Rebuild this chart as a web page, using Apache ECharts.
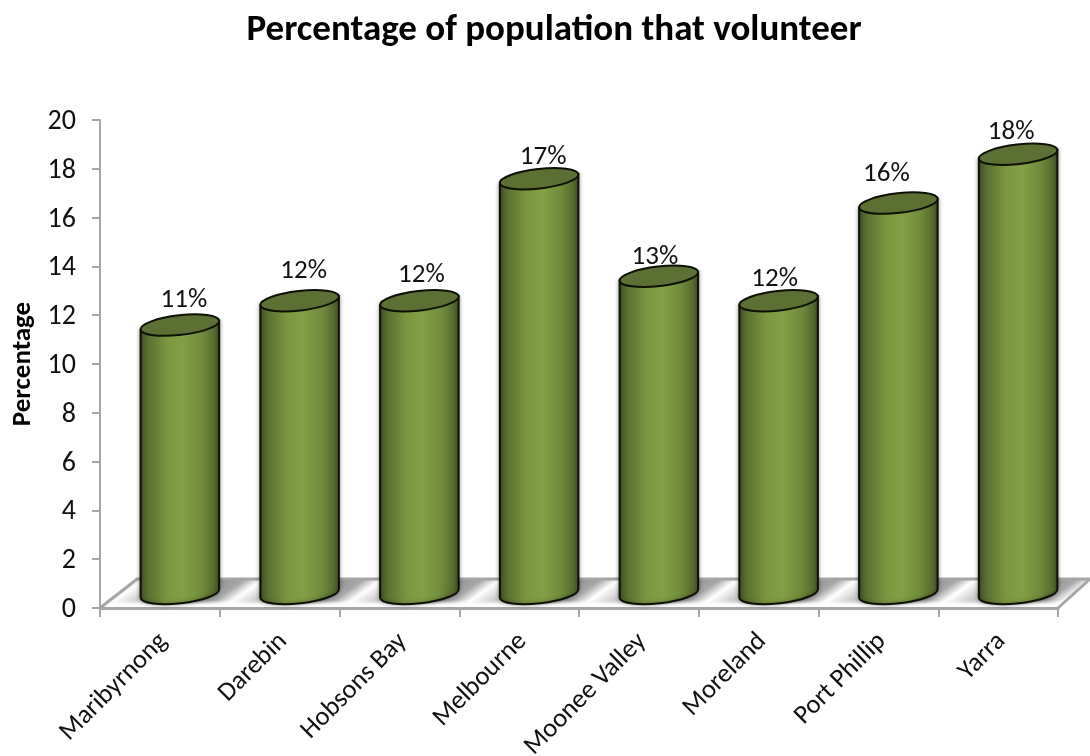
<!DOCTYPE html>
<html><head><meta charset="utf-8">
<style>html,body{margin:0;padding:0;background:#fff}#c{width:1090px;height:756px}</style>
<script src="https://cdn.jsdelivr.net/npm/echarts@6/dist/echarts.min.js"></script>
</head><body><div id="c"></div>
<script>
const categories = ['Maribyrnong','Darebin','Hobsons Bay','Melbourne','Moonee Valley','Moreland','Port Phillip','Yarra'];
const values = [11,12,12,17,13,12,16,18];
const yTicks = {min:0,max:20,interval:2};
const titleText = 'Percentage of population that volunteer';
const yName = 'Percentage';
// Hand nudges of the value labels, as in the source chart
const labelNudgeX = [4,4,2,4,-4,-4,-12,-7];
const labelNudgeY = [-25,-29,-25,-21,-19,-21,-29,-22];

const FONT = 'Carlito, Calibri, Lato, sans-serif';
const G = {l:100,r:1058,t:120,b:608};
const chart = echarts.init(document.getElementById('c'),null,{renderer:'canvas'});

// Floor shading: diagonal grey streaks between the cylinders
function floorGradient(){
  const P=119.75, dx=0.58, dy=0.81, n=10;
  const span=P*dx;
  const x0=10, y0=590;
  const stops=[];
  for(let i=0;i<n;i++){
    const f=o=>(i+o)/n;
    stops.push({offset:f(0),color:'#ffffff'});
    stops.push({offset:f(0.18),color:'#cfcfcf'});
    stops.push({offset:f(0.6),color:'#8a8a8a'});
    stops.push({offset:f(0.85),color:'#a8a8a8'});
    stops.push({offset:f(1),color:'#ffffff'});
  }
  return {type:'linear',global:true,x:x0,y:y0,x2:x0+dx*span*n,y2:y0+dy*span*n,colorStops:stops};
}

function renderCylinder(params,api){
  const i=api.value(0), v=api.value(1);
  const top=api.coord([i,v]), base=api.coord([i,0]);
  const band=api.size([1,0])[0];
  const shiftX=band*0.167, shiftY=-14.5;
  const rx=band*0.33, ry=9.8, rot=-6.5;
  const cx=top[0]+shiftX, ty=top[1]+shiftY, by=base[1]+shiftY;
  const a=rot*Math.PI/180;
  const ex=rx*Math.cos(a), ey=rx*Math.sin(a);
  const body=`M${cx-ex} ${ty-ey}L${cx-ex} ${by-ey}A${rx} ${ry} ${rot} 0 0 ${cx+ex} ${by+ey}L${cx+ex} ${ty+ey}Z`;
  const cap=`M${cx-ex} ${ty-ey}A${rx} ${ry} ${rot} 1 1 ${cx+ex} ${ty+ey}A${rx} ${ry} ${rot} 1 1 ${cx-ex} ${ty-ey}Z`;
  const grad={type:'linear',x:0,y:0,x2:1,y2:0,colorStops:[
    {offset:0,color:'#445426'},{offset:0.12,color:'#5c7132'},{offset:0.35,color:'#7b983f'},
    {offset:0.55,color:'#82a044'},{offset:0.78,color:'#6f8a3a'},{offset:0.93,color:'#55682d'},{offset:1,color:'#43532a'}]};
  return {type:'group',children:[
    {type:'path',shape:{pathData:body},style:{fill:grad,stroke:'#0c1005',lineWidth:2,shadowBlur:4,shadowColor:'rgba(0,0,0,0.35)'}},
    {type:'path',shape:{pathData:cap},style:{fill:'#5c7033',stroke:'#0c1005',lineWidth:2}},
    {type:'text',style:{text:values[i]+'%',x:cx+labelNudgeX[i],y:ty+labelNudgeY[i],align:'center',verticalAlign:'middle',fill:'#111',font:'27px '+FONT}}
  ]};
}

chart.setOption({
  animation:false,
  backgroundColor:'#fff',
  title:{text:titleText,left:549,top:7,textAlign:'center',textStyle:{fontFamily:FONT,fontWeight:'bold',fontSize:37,color:'#000'}},
  grid:{left:G.l,right:1090-G.r,top:G.t,bottom:756-G.b,containLabel:false,outerBoundsMode:'none'},
  graphic:[
    {type:'polygon',z:-1,shape:{points:[[100,608],[137,579],[1090,579],[1058,608]]},style:{fill:floorGradient()}},
    {type:'polygon',z:-1,shape:{points:[[100,608],[110,600],[1067,600],[1058,608]]},style:{fill:{type:'linear',x:0,y:0,x2:0,y2:1,colorStops:[{offset:0,color:'rgba(255,255,255,0)'},{offset:0.6,color:'rgba(255,255,255,1)'},{offset:1,color:'#fff'}]}}},
    {type:'polyline',z:0,shape:{points:[[100,608],[137,579],[1090,579]]},style:{fill:'none',stroke:'#a6a6a6',lineWidth:3}},
    {type:'polyline',z:0,shape:{points:[[1058,608],[1090,579]]},style:{fill:'none',stroke:'#a6a6a6',lineWidth:3}}
  ],
  xAxis:{type:'category',data:categories,boundaryGap:true,
    axisLine:{show:true,onZero:false,lineStyle:{color:'#a6a6a6',width:3}},
    axisTick:{show:true,length:9,lineStyle:{color:'#a6a6a6',width:2}},
    axisLabel:{rotate:45,interval:0,margin:33,padding:[14,-5,0,0],color:'#111',fontFamily:FONT,fontSize:26.5}},
  yAxis:{type:'value',min:yTicks.min,max:yTicks.max,interval:yTicks.interval,name:yName,nameLocation:'middle',nameGap:61,
    nameTextStyle:{fontFamily:FONT,fontWeight:'bold',fontSize:27,color:'#000'},
    splitLine:{show:false},
    axisLine:{show:true,lineStyle:{color:'#a6a6a6',width:2}},
    axisTick:{show:true,length:8,lineStyle:{color:'#a6a6a6',width:2}},
    axisLabel:{margin:24,verticalAlign:'top',padding:[-12,0,0,0],color:'#111',fontFamily:FONT,fontSize:28}},
  series:[{type:'custom',coordinateSystem:'cartesian2d',renderItem:renderCylinder,clip:false,
    encode:{x:0,y:1},data:values.map((v,i)=>[i,v])}]
});
</script></body></html>
